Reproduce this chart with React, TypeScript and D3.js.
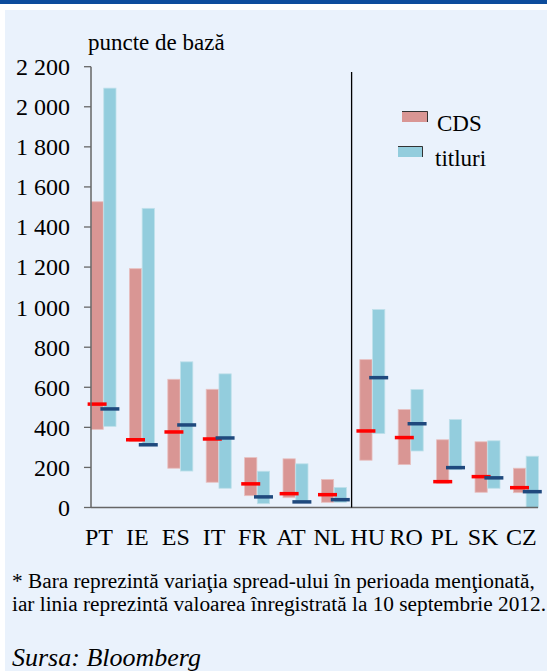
import React from 'react';
import * as d3 from 'd3';

// valori (puncte de baza)
const categories = ['PT', 'IE', 'ES', 'IT', 'FR', 'AT', 'NL', 'HU', 'RO', 'PL', 'SK', 'CZ'];
const cdsLow = [390, 330, 196, 126, 59, 49, 26, 236, 214, 121, 76, 74];
const cdsHigh = [1526, 1192, 640, 590, 249, 243, 140, 738, 489, 338, 328, 196];
const cdsLast = [516, 338, 377, 342, 118, 69, 64, 382, 349, 129, 154, 99];
const titLow = [405, 315, 182, 96, 19, 25, 26, 369, 282, 189, 96, 0];
const titHigh = [2093, 1493, 727, 667, 181, 218, 100, 988, 589, 439, 333, 256];
const titLast = [492, 313, 412, 347, 53, 28, 39, 648, 418, 199, 148, 79];
const yTicks = [0, 200, 400, 600, 800, 1000, 1200, 1400, 1600, 1800, 2000, 2200];
const seriesNames = ['CDS', 'titluri'];

const W = 547;
const H = 671;
const font = 'Liberation Serif';

const colors = {
  band: '#0d4c9c',
  panel: '#eaf2fc',
  cds: '#d99694',
  cdsEdge: '#e8c0c0',
  tit: '#93cddd',
  titEdge: '#bfe0ea',
  cdsLine: '#ff0000',
  titLine: '#1f497d',
  axis: '#666666',
};

const fmt = d3.formatLocale({ decimal: ',', thousands: ' ', grouping: [3], currency: ['', ''] }).format(',');

export default function App() {
  const y = d3.scaleLinear().domain([0, 2200]).range([507.5, 66.7]);
  const x = d3.scaleBand().domain(categories).range([84.3, 545.1]);
  const sub = d3.scaleBand().domain(seriesNames).range([-12.5, 12.5]).paddingInner(0.04);
  const markW = 19;

  const rows = categories.map((c, i) => ({
    c,
    cx: (x(c) as number) + x.bandwidth() / 2,
    series: [
      { name: 'CDS', lo: cdsLow[i], hi: cdsHigh[i], last: cdsLast[i], fill: colors.cds, edge: colors.cdsEdge, line: colors.cdsLine },
      { name: 'titluri', lo: titLow[i], hi: titHigh[i], last: titLast[i], fill: colors.tit, edge: colors.titEdge, line: colors.titLine },
    ],
  }));

  const axisX = 91;
  const divider = ((x('NL') as number) + x.bandwidth() + (x('HU') as number)) / 2 - 1.5;

  return (
    <>
      <style>{'body{margin:0}'}</style>
      <svg width={W} height={H} style={{ display: 'block' }} fontFamily={font}>
        <rect x={0} y={0} width={W} height={H} fill="#ffffff" />
        <rect x={0} y={0} width={W} height={4} fill={colors.band} />
        <rect x={5} y={10} width={W - 5} height={H - 10} fill={colors.panel} />

        <text x={88} y={50} fontSize={23} fontFamily={font} fill="#000">puncte de bază</text>

        {/* bare */}
        {rows.map((r) =>
          r.series.map((s) => {
            const bx = r.cx + (sub(s.name) as number);
            return (
              <rect
                key={r.c + s.name}
                x={bx}
                y={y(s.hi)}
                width={sub.bandwidth()}
                height={y(s.lo) - y(s.hi)}
                fill={s.fill}
                stroke={s.edge}
                strokeWidth={0.8}
              />
            );
          })
        )}

        {/* valorile la 10 septembrie */}
        {rows.map((r) =>
          r.series.map((s) => {
            const mx = r.cx + (sub(s.name) as number) + sub.bandwidth() / 2;
            return (
              <line
                key={'m' + r.c + s.name}
                x1={mx - markW / 2}
                x2={mx + markW / 2}
                y1={y(s.last)}
                y2={y(s.last)}
                stroke={s.line}
                strokeWidth={3.5}
              />
            );
          })
        )}

        {/* axa y */}
        <line x1={axisX} x2={axisX} y1={y(2200)} y2={y(0)} stroke={colors.axis} strokeWidth={1.5} />
        {yTicks.map((t) => (
          <g key={t}>
            <line x1={84} x2={axisX} y1={y(t)} y2={y(t)} stroke={colors.axis} strokeWidth={1.3} />
            <text x={70} y={y(t)} dy="0.35em" textAnchor="end" fontSize={24} fontFamily={font} fill="#000">
              {fmt(t)}
            </text>
          </g>
        ))}

        {/* axa x */}
        <line x1={axisX} x2={538} y1={y(0)} y2={y(0)} stroke={colors.axis} strokeWidth={1.5} />
        {rows.map((r) => (
          <text key={'l' + r.c} x={r.cx - 4.5} y={545} textAnchor="middle" fontSize={24} fontFamily={font} fill="#000">
            {r.c}
          </text>
        ))}

        <line x1={divider} x2={divider} y1={72} y2={y(0)} stroke="#000" strokeWidth={1.3} />

        {/* legenda */}
        <rect x={402} y={111} width={26} height={11} fill={colors.cds} />
        <path d="M402,111.5 H427.5 V122" fill="none" stroke="#333" strokeWidth={1} />
        <text x={437} y={131} fontSize={23} fontFamily={font} fill="#000">CDS</text>
        <rect x={398} y={146} width={25} height={11} fill={colors.tit} />
        <path d="M398,146.5 H422.5 V157" fill="none" stroke="#333" strokeWidth={1} />
        <text x={435} y={166} fontSize={23} fontFamily={font} fill="#000">titluri</text>

        {/* nota */}
        <text x={12} y={588} fontSize={21.3} fontFamily={font} fill="#000">
          * Bara reprezintă variaţia spread-ului în perioada menţionată,
        </text>
        <text x={12} y={611} fontSize={21.3} fontFamily={font} fill="#000">
          iar linia reprezintă valoarea înregistrată la 10 septembrie 2012.
        </text>
        <text x={12} y={666} fontSize={26} fontStyle="italic" fontFamily={font} fill="#000">
          Sursa: Bloomberg
        </text>
      </svg>
    </>
  );
}
